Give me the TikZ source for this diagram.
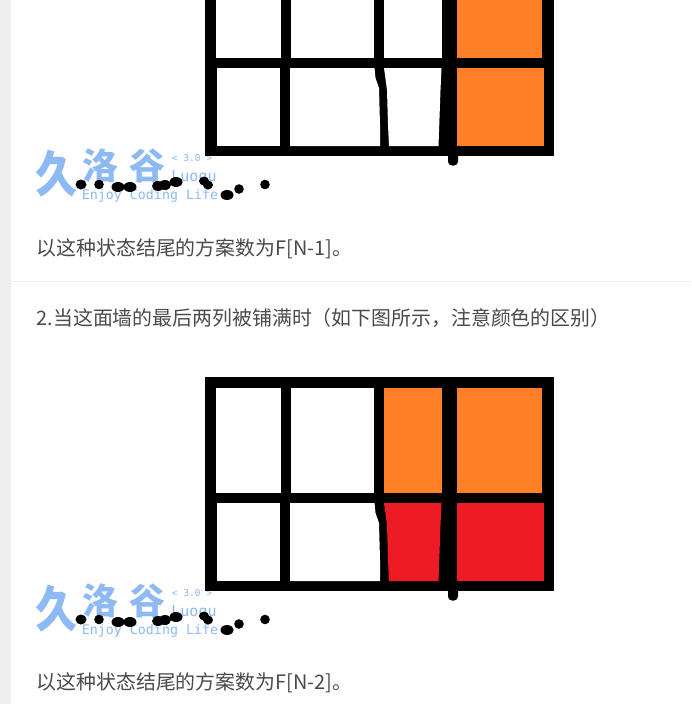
\documentclass[tikz,border=0pt]{standalone}
\usepackage{fontspec}
\setmainfont{Open Sans}
\newfontfamily\cjk{Noto Sans CJK SC}
\newfontfamily\monof{DejaVu Sans Mono}
\definecolor{tileorange}{HTML}{FF7F27}
\definecolor{tilered}{HTML}{ED1C24}
\definecolor{wm}{HTML}{8DB9F5}
\definecolor{bodytext}{HTML}{4A4A4A}
\definecolor{pagegray}{HTML}{EEEEEE}
\tikzset{
  x=1pt,y=-1pt,
  bodyline/.style={anchor=west,inner sep=0pt,text=bodytext,font=\cjk\fontsize{19.9}{24}\selectfont},
  wmtext/.style={anchor=center,inner sep=0pt,text=wm},
}
% #1 = vertical offset
\newcommand{\blobs}[1]{%
  \begin{scope}[yshift=-#1pt]
    \foreach \px/\py/\rx/\ry in {81/184.5/5.5/5,99/184.5/4.8/4.8,118/187/6.5/5,130/187/6.5/5,158/186/6/5,165/185/6/5,176/182/6.5/5,204/181/5/4.5,208/185/5/4.5,227/195/6.5/5,239/189/4.8/4.8,265/184.5/4.8/4.8}
      {\fill[black] (\px,\py) ellipse [x radius=\rx pt,y radius=\ry pt];}
  \end{scope}}
\newcommand{\logo}[1]{%
  \begin{scope}[yshift=-#1pt]
    \node[wmtext,yscale=1.18,font=\cjk\bfseries\fontsize{42}{42}\selectfont] (jiu#1) at (56.5,173.5) {久};
    \node[wmtext,font=\cjk\bfseries\fontsize{36}{36}\selectfont] (luo#1) at (100,165.5) {洛};
    \node[wmtext,font=\cjk\bfseries\fontsize{36}{36}\selectfont] (gu#1) at (147.5,165.5) {谷};
    \node[wmtext,font=\monof\fontsize{9.5}{10}\selectfont] (ver#1) at (192,158) {< 3.0 >};
    \node[wmtext,font=\monof\fontsize{15}{15}\selectfont] (name#1) at (194,178) {Luogu};
    \node[wmtext,font=\monof\fontsize{13.3}{14}\selectfont] (slogan#1) at (150,196) {Enjoy Coding Life};
  \end{scope}}
% #1 offset, #2..#5 fills: top3, top4, bottom3, bottom4
\newcommand{\tilegrid}[5]{%
  \begin{scope}[yshift=-#1pt]
    \fill[black] (205,-58) rectangle (554,156);
    \fill[white] (216,-47) rectangle (281,58);
    \fill[white] (291,-47) rectangle (374,58);
    \fill[#2] (383.5,-47) rectangle (442,58);
    \fill[#3] (457,-47) rectangle (542,58);
    \fill[white] (216.5,68) rectangle (280,146);
    \fill[white] (290,68) -- (374.5,68) -- (375.5,78) -- (379,88) -- (380,125) -- (380,146) -- (290,146) -- cycle;
    \fill[#4] (384,68) -- (441.5,68) -- (440.5,90) -- (438.5,146) -- (389,146) -- (388,125) -- (387,90) -- cycle;
    \fill[#5] (457,68) rectangle (544,146);
    \fill[black,rounded corners=4pt] (448,150) rectangle (458,165.5);
  \end{scope}}
\begin{document}
\begin{tikzpicture}
\useasboundingbox (0,0) rectangle (691,704);
\fill[white] (0,0) rectangle (691,704);
\begin{scope}
  \clip (0,0) rectangle (691,704);
  \logo{0}
  \tilegrid{0}{white}{tileorange}{white}{tileorange}
  \logo{435}
  \tilegrid{435}{tileorange}{tileorange}{tilered}{tilered}
\end{scope}
\fill[pagegray] (0,0) rectangle (11,704);
\blobs{0}
\blobs{435}
\node[bodyline] (t1) at (36.5,249) {以这种状态结尾的方案数为F[N-1]。};
\draw[pagegray,line width=1pt] (11,281.5) -- (691,281.5);
\node[bodyline] (t2) at (36.5,318) {2.当这面墙的最后两列被铺满时（如下图所示，注意颜色的区别）};
\node[bodyline] (t3) at (36.5,683) {以这种状态结尾的方案数为F[N-2]。};
\end{tikzpicture}
\end{document}
